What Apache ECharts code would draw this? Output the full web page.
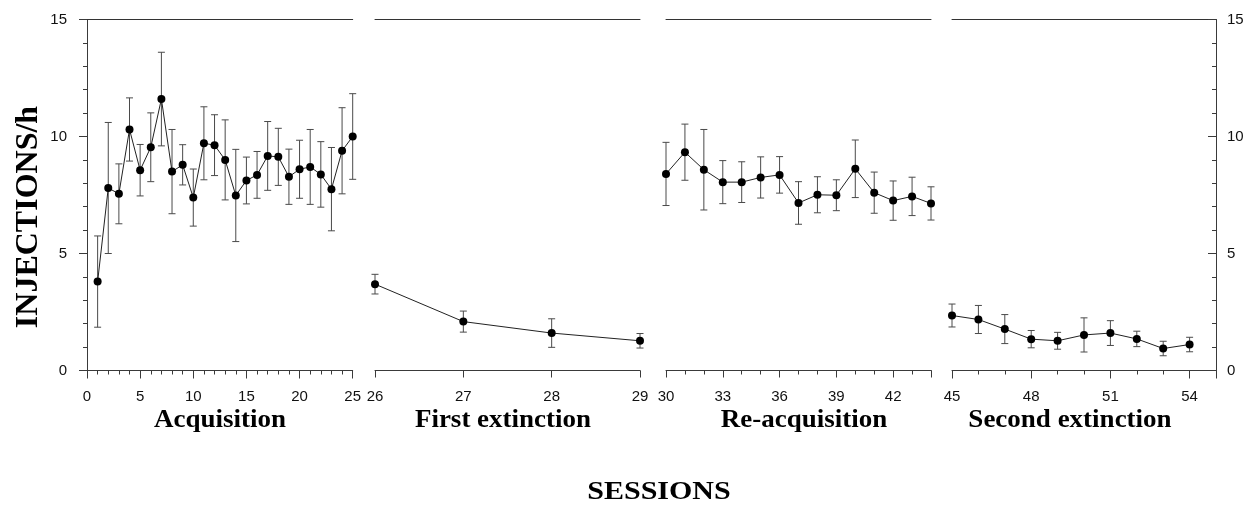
<!DOCTYPE html>
<html>
<head>
<meta charset="utf-8">
<script src="https://cdn.jsdelivr.net/npm/echarts@6/dist/echarts.min.js"></script>
<style>
html,body{margin:0;padding:0;background:#fff;}
#chart{width:1251px;height:512px;}
</style>
</head>
<body>
<div id="chart"></div>
<script>
// ---- data ----
const acqSessions = [1,2,3,4,5,6,7,8,9,10,11,12,13,14,15,16,17,18,19,20,21,22,23,24,25];
const acqMean = [3.8,7.8,7.55,10.3,8.56,9.54,11.6,8.5,8.79,7.39,9.71,9.63,9.0,7.48,8.12,8.36,9.17,9.13,8.28,8.6,8.7,8.38,7.75,9.39,10.0];
const acqSem  = [1.95,2.8,1.28,1.35,1.1,1.47,2.0,1.8,0.86,1.22,1.56,1.3,1.71,1.97,1.0,1.0,1.47,1.22,1.18,1.24,1.6,1.4,1.78,1.84,1.83];

const ext1Sessions = [26,27,28,29];
const ext1Mean = [3.69,2.09,1.6,1.27];
const ext1Sem  = [0.42,0.45,0.61,0.31];

const reacqSessions = [30,31,32,33,34,35,36,37,38,39,40,41,42,43,44];
const reacqMean = [8.4,9.33,8.58,8.05,8.05,8.25,8.36,7.16,7.51,7.49,8.62,7.6,7.26,7.44,7.14];
const reacqSem  = [1.35,1.2,1.72,0.92,0.87,0.88,0.78,0.91,0.77,0.66,1.23,0.88,0.84,0.82,0.71];

const ext2Sessions = [45,46,47,48,49,50,51,52,53,54];
const ext2Mean = [2.35,2.18,1.77,1.34,1.27,1.52,1.6,1.35,0.94,1.11];
const ext2Sem  = [0.49,0.6,0.62,0.37,0.36,0.73,0.53,0.33,0.31,0.31];

const phaseNames = ['Acquisition','First extinction','Re-acquisition','Second extinction'];
const yTickMin = 0, yTickMax = 15, yTickStep = 5;
const xLabels1 = [0,5,10,15,20,25];
const xLabels2 = [26,27,28,29];
const xLabels3 = [30,33,36,39,42];
const xLabels4 = [45,48,51,54];
const yTitle = 'INJECTIONS/h';
const xTitle = 'SESSIONS';

// ---- layout ----
const chart = echarts.init(document.getElementById('chart'), null, {renderer:'canvas'});
const AX = '#3a3a3a';
const LBL = {color:'#111', fontFamily:'Liberation Sans, Arial, sans-serif', fontSize:15};
const grids = [
  {left:87,  right:898.3, top:19.5, bottom:141.5},
  {left:375, right:611,   top:19.5, bottom:141.5},
  {left:666, right:320,   top:19.5, bottom:141.5},
  {left:952, right:35,    top:19.5, bottom:141.5}
];
const ranges = [[0,25],[26,29],[30,44],[45,55]];

function labelFmt(list){ return v => list.indexOf(Math.round(v)) >= 0 && Math.abs(v-Math.round(v))<1e-6 ? String(Math.round(v)) : ''; }

const xAxes = [];
// panel 1 bottom
xAxes.push({type:'value', gridIndex:0, position:'bottom', min:ranges[0][0], max:ranges[0][1], interval:5,
  axisLine:{show:true, lineStyle:{color:AX, width:1}}, axisTick:{show:true, length:8, lineStyle:{color:AX}},
  minorTick:{show:true, splitNumber:5, length:4, lineStyle:{color:AX}},
  axisLabel:Object.assign({margin:19, formatter:labelFmt(xLabels1)}, LBL), splitLine:{show:false}, minorSplitLine:{show:false}});
// panel 2 bottom
xAxes.push({type:'value', gridIndex:1, position:'bottom', min:ranges[1][0], max:ranges[1][1], interval:1,
  axisLine:{show:true, lineStyle:{color:AX, width:1}}, axisTick:{show:true, length:7, lineStyle:{color:AX}},
  axisLabel:Object.assign({margin:19, formatter:labelFmt(xLabels2)}, LBL), splitLine:{show:false}});
// panel 3 bottom (minor ticks every session)
xAxes.push({type:'value', gridIndex:2, position:'bottom', min:ranges[2][0], max:ranges[2][1], interval:1,
  axisLine:{show:true, lineStyle:{color:AX, width:1}}, axisTick:{show:true, length:4, lineStyle:{color:AX}},
  axisLabel:Object.assign({margin:19, formatter:labelFmt(xLabels3)}, LBL), splitLine:{show:false}});
// panel 4 bottom
xAxes.push({type:'value', gridIndex:3, position:'bottom', min:ranges[3][0], max:ranges[3][1], interval:1,
  axisLine:{show:true, lineStyle:{color:AX, width:1}}, axisTick:{show:true, length:4, lineStyle:{color:AX}},
  axisLabel:Object.assign({margin:19, formatter:labelFmt(xLabels4)}, LBL), splitLine:{show:false}});
// major tick overlays for panels 3 and 4
xAxes.push({type:'value', gridIndex:2, position:'bottom', min:ranges[2][0], max:ranges[2][1], interval:3,
  axisLine:{show:false}, axisTick:{show:true, length:7, lineStyle:{color:AX}}, axisLabel:{show:false}, splitLine:{show:false}});
xAxes.push({type:'value', gridIndex:3, position:'bottom', min:ranges[3][0], max:ranges[3][1], interval:3,
  axisLine:{show:false}, axisTick:{show:true, length:8, lineStyle:{color:AX}}, axisLabel:{show:false}, splitLine:{show:false}});
// top border lines
for (let g=0; g<4; g++){
  xAxes.push({type:'value', gridIndex:g, position:'top', min:ranges[g][0], max:ranges[g][1],
    axisLine:{show:true, lineStyle:{color:'#333', width:1}}, axisTick:{show:false}, axisLabel:{show:false}, splitLine:{show:false}});
}

const yAxes = [
  {type:'value', gridIndex:0, position:'left', min:yTickMin, max:yTickMax, interval:yTickStep,
   axisLine:{show:true, lineStyle:{color:AX}}, axisTick:{show:true, length:8, lineStyle:{color:AX}},
   minorTick:{show:true, splitNumber:5, length:4, lineStyle:{color:AX}},
   axisLabel:Object.assign({margin:20}, LBL), splitLine:{show:false}, minorSplitLine:{show:false}},
  {type:'value', gridIndex:1, min:yTickMin, max:yTickMax, show:false, splitLine:{show:false}},
  {type:'value', gridIndex:2, min:yTickMin, max:yTickMax, show:false, splitLine:{show:false}},
  {type:'value', gridIndex:3, position:'right', min:yTickMin, max:yTickMax, interval:yTickStep,
   axisLine:{show:true, lineStyle:{color:AX}}, axisTick:{show:true, inside:true, length:8, lineStyle:{color:AX}},
   minorTick:{show:true, splitNumber:5, length:4, lineStyle:{color:AX}},
   axisLabel:Object.assign({margin:11}, LBL), splitLine:{show:false}, minorSplitLine:{show:false}}
];

const phases = [
  [acqSessions, acqMean, acqSem],
  [ext1Sessions, ext1Mean, ext1Sem],
  [reacqSessions, reacqMean, reacqSem],
  [ext2Sessions, ext2Mean, ext2Sem]
];
const bottomAxisIdx = [0,1,2,3];

function errRender(params, api){
  const x = api.value(0), lo = api.value(1), hi = api.value(2);
  const a = api.coord([x, hi]), b = api.coord([x, lo]);
  const w = 3.5, st = {stroke:'#4a4a4a', lineWidth:1};
  return {type:'group', children:[
    {type:'line', shape:{x1:a[0], y1:a[1], x2:b[0], y2:b[1]}, style:st},
    {type:'line', shape:{x1:a[0]-w, y1:a[1], x2:a[0]+w, y2:a[1]}, style:st},
    {type:'line', shape:{x1:b[0]-w, y1:b[1], x2:b[0]+w, y2:b[1]}, style:st}
  ]};
}

const series = [];
phases.forEach((p, g) => {
  const [xs, m, s] = p;
  series.push({type:'custom', xAxisIndex:bottomAxisIdx[g], yAxisIndex:g, z:1, silent:true,
    renderItem:errRender, data: xs.map((x,i)=>[x, m[i]-s[i], m[i]+s[i]]), clip:false});
  series.push({type:'line', xAxisIndex:bottomAxisIdx[g], yAxisIndex:g, z:3, silent:true,
    data: xs.map((x,i)=>[x, m[i]]), symbol:'circle', symbolSize:8, showSymbol:true,
    itemStyle:{color:'#000'}, lineStyle:{color:'#222', width:1}, animation:false});
});

const titleFont = 'bold 27px "Liberation Serif", "Times New Roman", serif';
const titleX = [220, 503, 804, 1070];
const graphics = phaseNames.map((n,i)=>({type:'text', x:titleX[i], y:421, scaleY:0.9,
  style:{text:n, font:titleFont, fill:'#000', textAlign:'center', textVerticalAlign:'middle'}}));
graphics.push({type:'text', x:659, y:492, scaleY:0.85,
  style:{text:xTitle, font:'bold 30px "Liberation Serif", "Times New Roman", serif', fill:'#000', textAlign:'center', textVerticalAlign:'middle'}});
graphics.push({type:'text', x:29, y:217, rotation:Math.PI/2,
  style:{text:yTitle, font:'bold 32px "Liberation Serif", "Times New Roman", serif', fill:'#000', textAlign:'center', textVerticalAlign:'middle'}});

chart.setOption({
  animation:false,
  backgroundColor:'#fff',
  grid:grids,
  xAxis:xAxes,
  yAxis:yAxes,
  series:series,
  graphic:graphics
});
</script>
</body>
</html>
